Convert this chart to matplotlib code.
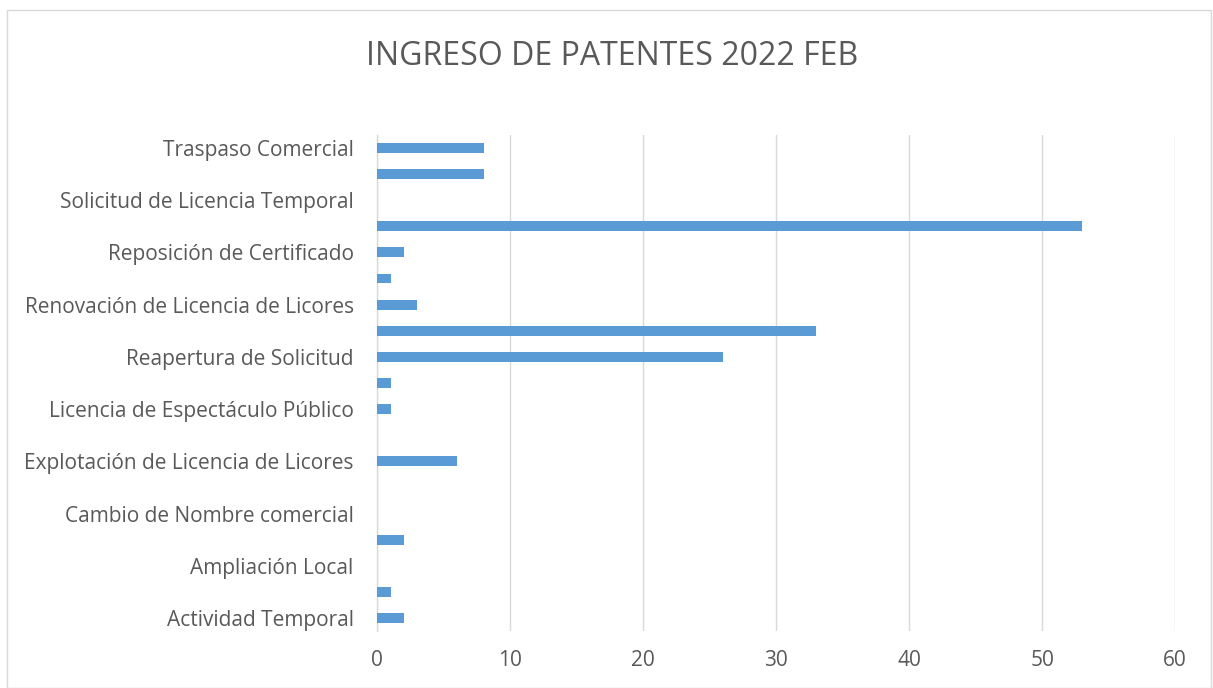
import matplotlib.pyplot as plt
from matplotlib.patches import Rectangle

# categorías de abajo hacia arriba (solo una de cada dos etiquetas se ve)
categorias = [
    "Actividad Temporal", "Ampliación de Actividad", "Ampliación Local",
    "Cambio de Actividad", "Cambio de Nombre comercial", "Cese de Actividad",
    "Explotación de Licencia de Licores", "Licencia de Actividad Temporal",
    "Licencia de Espectáculo Público", "Licencia Nueva",
    "Reapertura de Solicitud", "Renovación de Licencia",
    "Renovación de Licencia de Licores", "Renuncia de Patente",
    "Reposición de Certificado", "Solicitud de Licencia Comercial",
    "Solicitud de Licencia Temporal", "Traslado de Local", "Traspaso Comercial",
]
valores = [2, 1, 0, 2, 0, 0, 6, 0, 1, 1, 26, 33, 3, 1, 2, 53, 0, 8, 8]
ticks_x = [0, 10, 20, 30, 40, 50, 60]

plt.rcParams['font.family'] = ['Open Sans', 'DejaVu Sans']
gris = '#595959'

fig = plt.figure(figsize=(12.13, 6.88), dpi=100)
ax = fig.add_axes([0.311, 0.0828, 0.6577, 0.7212])

pos = list(range(len(categorias)))
ax.barh(pos, valores, height=0.38, color='#5b9bd5', zorder=3)

ax.set_xlim(0, 60)
ax.set_ylim(-0.5, len(categorias) - 0.5)
ax.set_xticks(ticks_x)
ax.set_yticks(pos)
ax.set_yticklabels([c if i % 2 == 0 else "" for i, c in enumerate(categorias)])
ax.grid(axis='x', color='#d9d9d9', linewidth=1, zorder=0)
ax.tick_params(axis='both', length=0, labelsize=15, colors=gris)
ax.tick_params(axis='x', pad=14)
ax.tick_params(axis='y', pad=17)
for s in ['top', 'right', 'bottom']:
    ax.spines[s].set_visible(False)
ax.spines['left'].set_color('#d9d9d9')
ax.spines['left'].set_linewidth(1)

fig.text(0.505, 0.918, "INGRESO DE PATENTES 2022 FEB", ha='center', va='center',
         fontsize=23, color=gris)

# borde del gráfico
fig.patches.append(Rectangle((0.006, 0.0), 0.992, 0.985, transform=fig.transFigure,
                             fill=False, edgecolor='#d9d9d9', linewidth=1))

fig.savefig('out.png', dpi=100)
